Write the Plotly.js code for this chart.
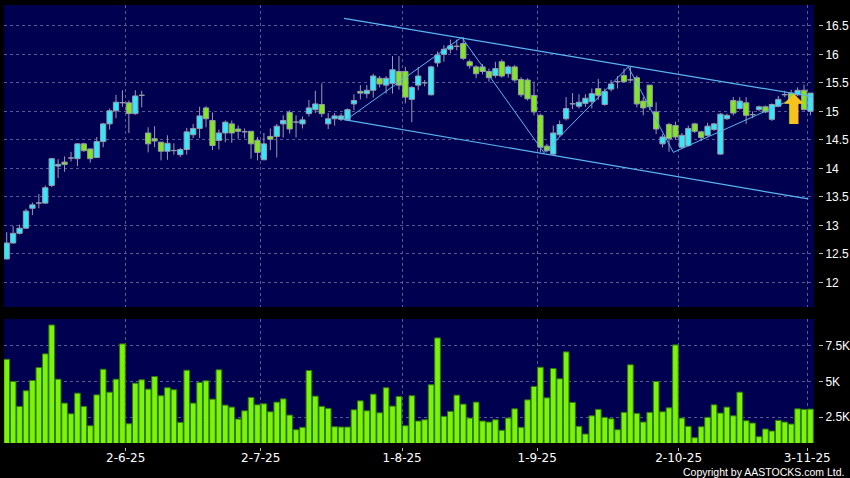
<!DOCTYPE html>
<html>
<head>
<meta charset="utf-8">
<script src="https://cdn.plot.ly/plotly-3.0.1.min.js"></script>
<style>
html,body{margin:0;padding:0;background:#000;}
#chart{width:850px;height:478px;}
</style>
</head>
<body>
<div id="chart"></div>
<script>
// ---- data (trading days 6 May 2025 .. 3 Nov 2025) ----
const opens = [12.41,12.69,12.86,12.95,13.30,13.39,13.39,13.70,14.04,14.11,
14.18,14.17,14.43,14.34,14.19,14.47,14.78,15.01,15.15,15.15,
14.96,15.28,14.62,14.52,14.46,14.30,14.31,14.24,14.33,14.59,
14.70,15.06,14.84,14.49,14.62,14.78,14.69,14.64,14.65,14.49,
14.15,14.56,14.56,14.78,14.98,14.81,14.78,14.96,15.03,15.12,
14.78,14.87,14.86,14.85,15.13,15.35,15.31,15.37,15.58,15.46,
15.49,15.70,15.70,15.21,15.46,15.50,15.29,15.85,16.00,16.09,
16.14,16.19,15.87,15.78,15.78,15.70,15.63,15.87,15.66,15.78,
15.56,15.55,15.28,14.93,14.39,14.25,14.59,14.87,15.13,15.09,
15.14,15.17,15.40,15.12,15.39,15.52,15.63,15.55,15.59,15.18,
15.46,14.99,14.43,14.77,14.75,14.37,14.40,14.78,14.64,14.58,
14.68,14.25,14.87,15.19,15.05,15.15,14.94,15.03,15.08,14.86,
15.09,15.29,15.32,15.29,15.37,15.00];
const highs = [12.88,12.99,13.01,13.29,13.40,13.55,13.70,14.18,14.16,14.21,
14.29,14.44,14.45,14.35,14.55,14.80,15.05,15.29,15.37,15.19,
15.37,15.36,14.72,14.74,14.46,14.58,14.44,14.36,14.71,14.78,
15.08,15.09,14.98,14.68,14.84,14.84,14.75,14.70,14.65,14.55,
14.62,14.70,14.78,14.93,15.02,14.93,14.91,15.20,15.36,15.49,
14.97,14.97,14.97,15.05,15.30,15.46,15.46,15.66,15.62,15.62,
15.97,15.97,15.78,15.44,15.78,15.55,15.80,16.05,16.16,16.26,
16.26,16.30,15.91,15.81,15.83,15.75,15.87,15.91,15.81,15.81,
15.60,15.58,15.52,14.96,14.43,14.75,14.84,15.25,15.32,15.30,
15.30,15.40,15.57,15.40,15.55,15.62,15.75,15.78,15.63,15.25,
15.46,15.16,14.60,14.80,14.82,14.62,14.75,14.80,14.66,14.80,
14.80,14.97,14.96,15.25,15.25,15.25,15.00,15.10,15.10,15.14,
15.27,15.36,15.38,15.42,15.47,15.32];
const lows = [12.40,12.68,12.84,12.94,13.18,13.30,13.38,13.67,13.83,13.94,
14.12,14.04,14.29,14.10,14.18,14.37,14.68,14.88,15.08,14.62,
14.94,15.07,14.28,14.37,14.14,14.15,14.24,14.20,14.24,14.53,
14.53,14.72,14.32,14.33,14.46,14.45,14.52,14.53,14.17,14.14,
14.15,14.32,14.19,14.54,14.61,14.54,14.70,14.91,14.97,14.90,
14.69,14.75,14.83,14.84,15.02,15.21,15.23,15.24,15.42,15.31,
15.31,15.38,15.14,14.81,15.37,15.44,15.28,15.78,15.87,16.02,
16.07,15.90,15.75,15.58,15.65,15.52,15.59,15.59,15.59,15.52,
15.25,15.19,14.93,14.28,14.28,14.23,14.55,14.84,15.04,15.05,
15.08,15.05,15.20,15.10,15.35,15.40,15.50,15.52,15.07,14.93,
15.02,14.60,14.37,14.29,14.50,14.35,14.38,14.62,14.48,14.56,
14.66,14.24,14.85,14.93,15.03,14.78,14.88,15.00,14.97,14.83,
15.07,15.25,15.18,15.27,15.02,14.93];
const closes = [12.69,12.86,12.95,13.25,13.36,13.39,13.66,14.17,14.07,14.07,
14.18,14.43,14.31,14.17,14.47,14.78,15.01,15.16,15.15,14.96,
15.27,15.28,14.43,14.48,14.30,14.44,14.31,14.33,14.64,14.70,
14.92,14.87,14.40,14.62,14.81,14.62,14.65,14.64,14.43,14.28,
14.43,14.51,14.74,14.84,14.69,14.81,14.85,15.06,15.13,14.96,
14.87,14.92,14.92,15.03,15.19,15.32,15.37,15.62,15.48,15.58,
15.73,15.46,15.25,15.42,15.62,15.50,15.78,15.99,16.09,16.15,
16.14,15.93,15.80,15.66,15.70,15.59,15.75,15.62,15.78,15.55,
15.29,15.22,14.99,14.37,14.31,14.62,14.77,15.05,15.13,15.16,
15.23,15.31,15.28,15.35,15.48,15.52,15.52,15.55,15.13,15.06,
15.08,14.69,14.55,14.52,14.55,14.58,14.70,14.65,14.54,14.74,
14.78,14.95,14.93,14.97,15.18,14.93,14.94,15.08,14.99,15.12,
15.21,15.29,15.20,15.37,15.03,15.32];
// volume in thousands
const volumesK = [6.56,5.0,3.25,4.35,5.07,5.98,6.94,8.97,5.16,3.48,
2.73,4.18,3.25,1.89,4.06,5.86,4.25,5.16,7.64,2.03,
4.88,5.12,4.46,5.35,4.0,4.56,4.42,2.13,5.79,3.48,
4.93,5.05,3.76,5.82,3.34,3.20,2.36,2.94,3.88,3.36,
3.43,2.87,3.55,3.78,2.64,1.61,1.78,5.77,3.97,3.25,
3.11,1.82,1.80,1.80,3.01,3.64,2.94,4.11,2.80,4.56,
3.27,3.95,1.89,4.0,2.22,2.31,4.77,8.06,2.55,2.90,
4.04,3.41,2.43,3.55,2.22,2.15,2.31,1.57,2.43,3.08,
1.78,3.71,4.65,6.0,3.85,5.91,5.19,7.08,3.53,1.85,
1.31,2.59,3.04,2.48,2.38,1.61,2.83,6.17,2.76,2.15,
2.83,5.0,2.87,3.15,7.57,2.43,1.85,1.05,1.82,2.48,
3.36,2.78,3.20,2.59,4.25,2.24,2.08,1.12,1.66,1.52,
2.27,2.15,2.01,3.08,3.04,3.06];
// month-start trading days (index) and their labels
const tickDays = [19, 40, 62, 83, 105, 125];
const tickLabels = ['2-6-25', '2-7-25', '1-8-25', '1-9-25', '2-10-25', '3-11-25'];
// drawn trend lines (day index, price)
const upperChannelX = [52.46, 125.2];
const upperChannelY = [16.63, 15.26];
const lowerChannelX = [52.46, 124.67];
const lowerChannelY = [14.854, 13.463];
const zigzagX = [52.83, 70.76, 83.56, 96.67, 103.67, 122.9];
const zigzagY = [14.854, 16.30, 14.275, 15.78, 14.28, 15.25];
// buy signal
const signalDay = 122.4;
const signalPrice = 15.03;
const priceTicks = [12, 12.5, 13, 13.5, 14, 14.5, 15, 15.5, 16, 16.5];
const volTicks = [2.5, 5, 7.5];
const volTickLabels = ['2.5K', '5K', '7.5K'];

// ---- build ----
const days = opens.map((_, i) => i);
const gridCol = '#5a5a92';
const lineCol = '#5ab6ee';
const edgeCol = '#9a9aae';
const upCol = '#33e8f8', downCol = '#80e81c', flatCol = '#9a9aae';

const bodyBase = days.map(i => Math.min(opens[i], closes[i]));
const bodyLen = days.map(i => Math.max(Math.abs(closes[i] - opens[i]), 0.004));
const bodyCol = days.map(i => closes[i] > opens[i] ? upCol : (closes[i] < opens[i] ? downCol : flatCol));
const wickX = [], wickY = [];
days.forEach(i => {
  const top = Math.max(opens[i], closes[i]), bot = Math.min(opens[i], closes[i]);
  wickX.push(i, i, null, i, i, null);
  wickY.push(highs[i], top, null, bot, lows[i], null);
});

const traces = [
  {type: 'bar', x: days, base: bodyBase, y: bodyLen, width: 0.82, xaxis: 'x', yaxis: 'y',
   marker: {color: bodyCol, line: {color: edgeCol, width: 1}}, hoverinfo: 'skip', showlegend: false},
  {type: 'scatter', mode: 'lines', x: wickX, y: wickY, xaxis: 'x', yaxis: 'y', connectgaps: false,
   line: {color: edgeCol, width: 1}, hoverinfo: 'skip', showlegend: false},
  {type: 'scatter', mode: 'lines', x: upperChannelX, y: upperChannelY, xaxis: 'x', yaxis: 'y',
   line: {color: lineCol, width: 1.2}, hoverinfo: 'skip', showlegend: false},
  {type: 'scatter', mode: 'lines', x: lowerChannelX, y: lowerChannelY, xaxis: 'x', yaxis: 'y',
   line: {color: lineCol, width: 1.2}, hoverinfo: 'skip', showlegend: false},
  {type: 'scatter', mode: 'lines', x: zigzagX, y: zigzagY, xaxis: 'x', yaxis: 'y',
   line: {color: lineCol, width: 1}, hoverinfo: 'skip', showlegend: false},
  {type: 'bar', x: days, y: volumesK, width: 0.88, xaxis: 'x2', yaxis: 'y2',
   marker: {color: '#7cf40a', line: {color: '#2f7a08', width: 1}},
   hoverinfo: 'skip', showlegend: false}
];

const xRange = [-0.42, 125.55];
const tickPos = tickDays.map(d => d - 0.5);
const plotFrac = 810 / 814;

const layout = {
  width: 850, height: 478,
  margin: {l: 4, r: 32, t: 5, b: 31},
  paper_bgcolor: '#000000',
  plot_bgcolor: '#000050',
  showlegend: false,
  xaxis: {
    domain: [0, plotFrac], anchor: 'y', range: xRange, type: 'linear',
    tickvals: tickPos, ticktext: tickLabels, showticklabels: false, ticks: '',
    showgrid: true, gridcolor: gridCol, griddash: '3px,3px', gridwidth: 1,
    zeroline: false, showline: false, fixedrange: true
  },
  xaxis2: {
    domain: [0, plotFrac], anchor: 'free', position: 0, matches: 'x', range: xRange, type: 'linear',
    tickvals: tickPos, ticktext: tickLabels, ticks: 'outside', ticklen: 3, tickcolor: '#bbbbbb',
    ticklabelstandoff: -3,
    tickfont: {family: 'DejaVu Sans', size: 12, color: '#ffffff'},
    showgrid: true, gridcolor: gridCol, griddash: '3px,3px', gridwidth: 1,
    zeroline: false, showline: false, fixedrange: true
  },
  yaxis: {
    domain: [0.3167, 1], anchor: 'free', position: 1, side: 'right', range: [11.567, 16.866],
    tickvals: priceTicks, ticktext: priceTicks.map(String), ticks: 'outside', ticklen: 4, tickcolor: '#bbbbbb',
    tickfont: {family: 'Liberation Sans', size: 12, color: '#ffffff'},
    showgrid: true, gridcolor: gridCol, griddash: '3px,3px', gridwidth: 1,
    zeroline: false, showline: false, fixedrange: true
  },
  yaxis2: {
    domain: [0.00905, 0.2896], anchor: 'free', position: 1, side: 'right', range: [0.678, 9.39],
    tickvals: volTicks, ticktext: volTickLabels, ticks: 'outside', ticklen: 4, tickcolor: '#bbbbbb',
    tickfont: {family: 'Liberation Sans', size: 12, color: '#ffffff'},
    showgrid: true, gridcolor: gridCol, griddash: '3px,3px', gridwidth: 1,
    zeroline: false, showline: false, fixedrange: true
  },
  annotations: [
    {text: '⬆', x: signalDay, y: signalPrice, xref: 'x', yref: 'y', showarrow: false,
     xanchor: 'center', yanchor: 'middle',
     font: {family: 'DejaVu Sans', size: 40, color: '#f6c21c'}},
    {text: 'Copyright by AASTOCKS.com Ltd.', xref: 'paper', yref: 'paper',
     x: 842 / 814, y: -0.057, xanchor: 'right', yanchor: 'middle', showarrow: false,
     font: {family: 'Liberation Sans', size: 10.5, color: '#ffffff'}}
  ]
};

Plotly.newPlot('chart', traces, layout, {displayModeBar: false, staticPlot: true});
</script>
</body>
</html>
